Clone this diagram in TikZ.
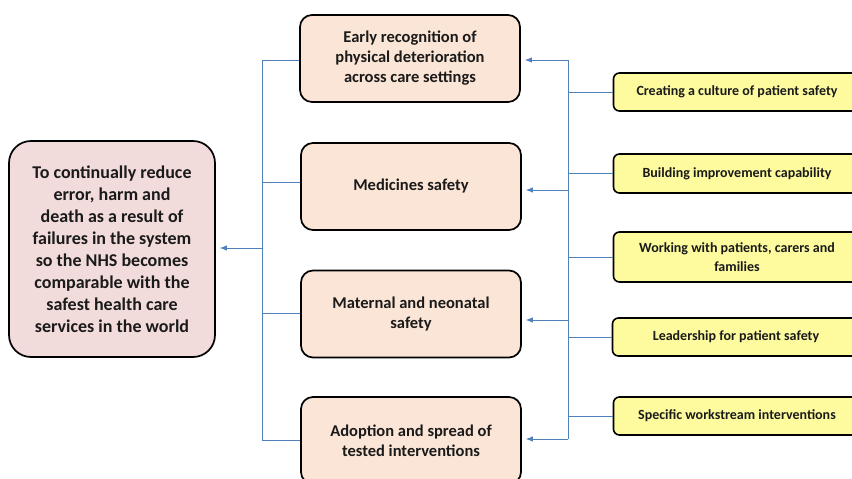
\documentclass[tikz,border=0pt]{standalone}
\usepackage{fontspec}
\setmainfont{Carlito}
\usetikzlibrary{arrows.meta}
\definecolor{peach}{HTML}{FBE5D6}
\definecolor{pinkbox}{HTML}{F2DCDB}
\definecolor{yelbox}{HTML}{FDFB9E}
\definecolor{linkblue}{HTML}{4F81BD}
\definecolor{txt}{HTML}{1A1A1A}
\tikzset{
  goalbox/.style={draw=black, line width=1.7pt, fill=pinkbox, rounded corners=22pt,
    minimum width=206pt, minimum height=216pt, align=center, text=txt,
    font=\bfseries\fontsize{18}{22}\selectfont, inner sep=0pt},
  midbox/.style={draw=black, line width=1.7pt, fill=peach, rounded corners=12pt,
    minimum width=220pt, minimum height=87pt, align=center, text=txt,
    font=\bfseries\fontsize{16.5}{20}\selectfont, inner sep=0pt},
  yelnode/.style={draw=black, line width=1.6pt, fill=yelbox, rounded corners=6pt,
    minimum width=247pt, minimum height=38pt, align=center, text=txt,
    font=\bfseries\fontsize{14}{19}\selectfont, inner sep=0pt},
  link/.style={draw=linkblue, line width=0.9pt},
  linkarrow/.style={link, -{Latex[length=7pt,width=5.5pt]}, shorten >=4pt},
}
\begin{document}
\begin{tikzpicture}[x=1pt,y=-1pt]
\useasboundingbox (0,0) rectangle (852,479);
\clip (0,0) rectangle (852,479);
% goal
\node[goalbox] (goal) at (112,249) {To continually reduce\\error, harm and\\death as a result of\\failures in the system\\so the NHS becomes\\comparable with the\\safest health care\\services in the world};
% middle boxes
\node[midbox] (m1) at (410,58.5) {Early recognition of\\physical deterioration\\across care settings};
\node[midbox] (m2) at (411,186.5) {Medicines safety};
\node[midbox] (m3) at (411,314) {Maternal and neonatal\\safety};
\node[midbox] (m4) at (411,440.5) {Adoption and spread of\\tested interventions};
% yellow boxes
\node[yelnode] (y1) at (737,92) {Creating a culture of patient safety};
\node[yelnode, minimum height=39pt] (y2) at (737,173.5) {Building improvement capability};
\node[yelnode, minimum height=50pt] (y3) at (737,257) {Working with patients, carers and\\families};
\node[yelnode] (y4) at (736,337) {Leadership for patient safety};
\node[yelnode] (y5) at (737,416) {Specific workstream interventions};
% bus coordinates
\coordinate (lt) at (262,60);
\coordinate (lb) at (262,440);
\coordinate (lmid) at (262,248);
\coordinate (rt) at (568,60);
\coordinate (rb) at (568,439);
% left bus
\draw[link] (lt) -- (lb);
\draw[link] (lt) -- (m1.west |- lt);
\draw[link] (m2.west |- 0,182) -- (lt |- 0,182);
\draw[link] (m3.west |- 0,313) -- (lt |- 0,313);
\draw[link] (lb) -- (m4.west |- lb);
\draw[linkarrow] (lmid) -- (goal.east |- lmid);
% right bus
\draw[link] (rt) -- (rb);
\draw[linkarrow] (rt) -- (m1.east |- rt);
\draw[linkarrow] (rt |- 0,190) -- (m2.east |- 0,190);
\draw[linkarrow] (rt |- 0,320) -- (m3.east |- 0,320);
\draw[linkarrow] (rb) -- (m4.east |- rb);
\draw[link] (rt |- y1.west) -- (y1.west);
\draw[link] (rt |- y2.west) -- (y2.west);
\draw[link] (rt |- y3.west) -- (y3.west);
\draw[link] (rt |- y4.west) -- (y4.west);
\draw[link] (rt |- y5.west) -- (y5.west);
\end{tikzpicture}
\end{document}
